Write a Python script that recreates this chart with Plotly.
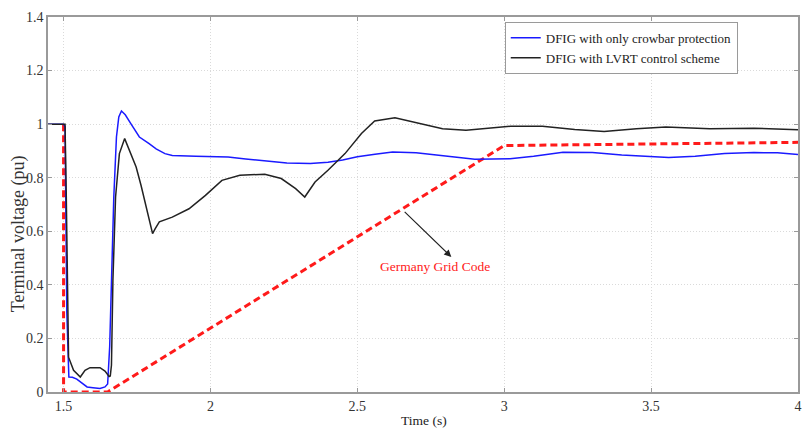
import plotly.graph_objects as go

# ---- data ----
t_crowbar = [1.447, 1.5, 1.505, 1.511, 1.518, 1.53, 1.545, 1.557, 1.57, 1.58, 1.60, 1.624, 1.641, 1.65,
             1.657, 1.663, 1.671, 1.68, 1.688, 1.697, 1.71, 1.73, 1.758, 1.79, 1.815, 1.845, 1.87,
             1.95, 2.0, 2.06, 2.12, 2.2, 2.26, 2.34, 2.4, 2.45, 2.5, 2.56, 2.62, 2.7, 2.8, 2.9,
             3.02, 3.1, 3.2, 3.3, 3.4, 3.5, 3.56, 3.65, 3.75, 3.85, 3.93, 4.0]
v_crowbar = [1.0, 1.0, 0.99, 0.3, 0.056, 0.055, 0.048, 0.037, 0.025, 0.019, 0.016, 0.013, 0.019, 0.03,
             0.17, 0.417, 0.728, 0.952, 1.027, 1.049, 1.035, 1.0, 0.952, 0.928, 0.908, 0.89, 0.883,
             0.88, 0.878, 0.877, 0.87, 0.86, 0.855, 0.853, 0.858, 0.866, 0.878, 0.888, 0.896, 0.893,
             0.882, 0.869, 0.871, 0.88, 0.895, 0.894, 0.885, 0.878, 0.875, 0.88, 0.89, 0.894, 0.893, 0.887]

t_lvrt = [1.447, 1.505, 1.509, 1.513, 1.517, 1.534, 1.557, 1.573, 1.59, 1.624, 1.641, 1.655, 1.659,
          1.663, 1.668, 1.677, 1.69, 1.708, 1.725, 1.747, 1.764, 1.781, 1.796, 1.803, 1.812, 1.826,
          1.87, 1.927, 1.983, 2.039, 2.1, 2.185, 2.241, 2.29, 2.321, 2.356, 2.4, 2.458, 2.514,
          2.559, 2.628, 2.69, 2.79, 2.87, 2.95, 3.022, 3.13, 3.24, 3.34, 3.45, 3.55, 3.7, 3.85, 4.0]
v_lvrt = [1.0, 1.0, 0.75, 0.3, 0.13, 0.081, 0.056, 0.081, 0.091, 0.091, 0.078, 0.058, 0.06,
          0.1, 0.417, 0.728, 0.89, 0.946, 0.9, 0.84, 0.77, 0.69, 0.616, 0.591, 0.61, 0.635,
          0.653, 0.684, 0.734, 0.79, 0.809, 0.813, 0.797, 0.759, 0.728, 0.784, 0.828, 0.89, 0.965,
          1.012, 1.024, 1.008, 0.983, 0.977, 0.985, 0.992, 0.992, 0.98, 0.973, 0.983, 0.989, 0.983, 0.985, 0.979]

t_code = [1.5, 1.5, 1.65, 3.0, 4.0]
v_code = [1.0, 0.0, 0.0, 0.92, 0.932]

x_ticks = [1.5, 2, 2.5, 3, 3.5, 4]
x_ticktext = ["1.5", "2", "2.5", "3", "3.5", "4"]
y_ticks = [0, 0.2, 0.4, 0.6, 0.8, 1.0, 1.2, 1.4]
y_ticktext = ["0", "0.2", "0.4", "0.6", "0.8", "1", "1.2", "1.4"]

names = ["DFIG with only crowbar protection", "DFIG with LVRT control scheme"]

SERIF = "Liberation Serif"

fig = go.Figure()
fig.add_trace(go.Scatter(x=t_code, y=v_code, mode="lines", showlegend=False,
                         line=dict(color="#ff1a1a", width=3, dash="7px,4px")))
fig.add_trace(go.Scatter(x=t_crowbar, y=v_crowbar, mode="lines", name=names[0],
                         line=dict(color="#1a1aff", width=1.5)))
fig.add_trace(go.Scatter(x=t_lvrt, y=v_lvrt, mode="lines", name=names[1],
                         line=dict(color="#222222", width=1.5)))

axis_common = dict(showline=True, mirror="ticks", linecolor="#9a9a9a", linewidth=1.5,
                   ticks="inside", ticklen=4, tickcolor="#9a9a9a",
                   showgrid=True, gridcolor="#dadada", griddash="1px,2px", gridwidth=1,
                   zeroline=False, tickfont=dict(family=SERIF, size=14, color="#333333"))

fig.update_layout(
    width=804, height=432,
    margin=dict(l=48, r=2, t=17, b=40),
    paper_bgcolor="white", plot_bgcolor="white",
    font=dict(family=SERIF),
    xaxis=dict(range=[1.447, 4.0], tickvals=x_ticks, ticktext=x_ticktext, **axis_common),
    yaxis=dict(range=[0, 1.4], tickvals=y_ticks, ticktext=y_ticktext, **axis_common),
    legend=dict(x=0.609, y=0.987, xanchor="left", yanchor="top",
                bgcolor="white", bordercolor="#9a9a9a", borderwidth=1,
                font=dict(family=SERIF, size=13, color="#222222"),
                itemwidth=30, tracegroupgap=0),
    showlegend=True,
)

fig.add_annotation(x=2.82, y=0.504, ax=2.656, ay=0.678, axref="x", ayref="y",
                   xref="x", yref="y", text="", showarrow=True,
                   arrowhead=2, arrowsize=1.2, arrowwidth=1.2, arrowcolor="#222222")
fig.add_annotation(x=2.766, y=0.469, xref="x", yref="y", text="Germany Grid Code",
                   showarrow=False, font=dict(family=SERIF, size=13.5, color="#ff2020"))
fig.add_annotation(x=0.501, y=-0.077, xref="paper", yref="paper", text="Time (s)",
                   showarrow=False, yanchor="middle",
                   font=dict(family=SERIF, size=13.5, color="#222222"))
fig.add_annotation(x=-0.0398, y=0.421, xref="paper", yref="paper", text="Terminal voltage (pu)",
                   showarrow=False, textangle=-90, xanchor="center", yanchor="middle",
                   font=dict(family=SERIF, size=18, color="#333333"))

fig.write_html("out.html", config={"displayModeBar": False},
               post_script="document.body.style.margin='0px';")
